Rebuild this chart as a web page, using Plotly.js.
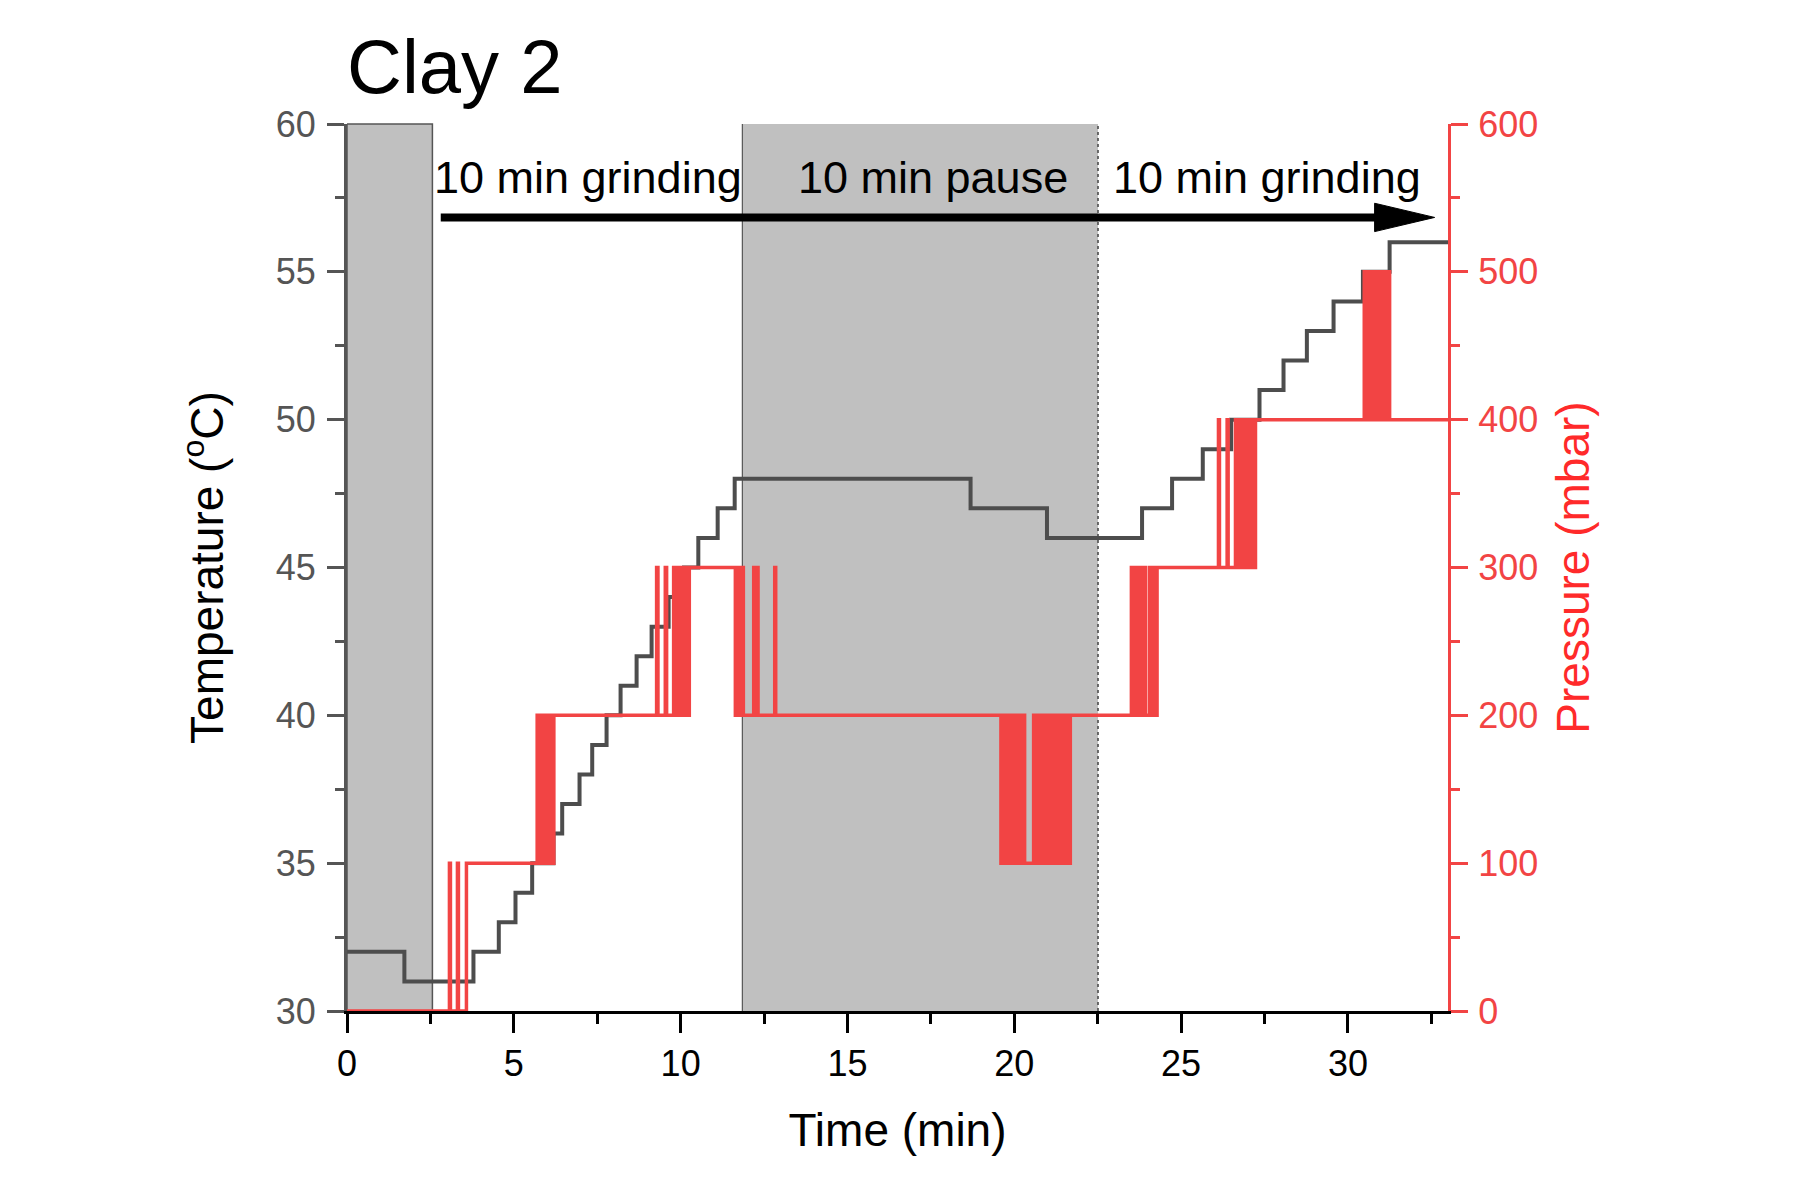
<!DOCTYPE html>
<html>
<head>
<meta charset="utf-8">
<script src="https://cdn.plot.ly/plotly-3.0.1.min.js"></script>
<style>
  body { margin: 0; background: #fff; }
  #chart { width: 1800px; height: 1200px; }
</style>
</head>
<body>
<div id="chart"></div>
<script>
//------------INPUT DATA------------

// temperature steps (min, degC)
const tempTime = [0, 1.72, 3.79, 4.55, 5.05, 5.55, 6.19, 6.45, 6.97, 7.35, 7.78, 8.2, 8.68, 9.13, 9.64, 10.1,
  10.53, 11.11, 11.62, 18.69, 20.98, 23.83, 24.73, 25.65, 26.5, 27.35, 28.07, 28.77, 29.57, 30.45, 31.25, 33];
const tempValue = [32, 31, 32, 33, 34, 35, 36, 37, 38, 39, 40, 41, 42, 43, 44, 45,
  46, 47, 48, 47, 46, 47, 48, 49, 50, 51, 52, 53, 54, 55, 56, 56];

// pressure readings (min, mbar) - sensor flips between two levels
const pressTime = [
  0, 3.07, 3.1, 3.31, 3.34, 3.58,
  5.7, 5.73, 5.79, 5.82, 5.88, 5.92, 5.96, 6.0, 6.04, 6.08, 6.12, 6.16, 6.2,
  9.28, 9.32, 9.54, 9.58, 9.79, 9.83, 9.92, 9.95, 10.02, 10.06, 10.1, 10.14, 10.18, 10.22, 10.26,
  11.64, 11.68, 11.72, 11.76, 11.8, 11.84, 11.88, 12.19, 12.22, 12.29, 12.32, 12.82, 12.85,
  19.6, 19.64, 19.68, 19.72, 19.76, 19.8, 19.84, 19.88, 19.92, 19.96, 20.0, 20.04, 20.08, 20.12, 20.16,
  20.2, 20.24, 20.28, 20.31,
  20.58, 20.62, 20.66, 20.7, 20.74, 20.78, 20.82, 20.86, 20.9, 20.94, 20.98, 21.02, 21.06, 21.1, 21.14,
  21.18, 21.22, 21.26, 21.3, 21.34, 21.38, 21.42, 21.46, 21.5, 21.54, 21.58, 21.62, 21.66, 21.68,
  23.51, 23.55, 23.59, 23.63, 23.67, 23.71, 23.75, 23.79, 23.83, 23.87, 23.91, 23.93,
  24.05, 24.09, 24.13, 24.17, 24.21, 24.25, 24.28,
  26.12, 26.15, 26.38, 26.41, 26.63, 26.67, 26.71, 26.75, 26.79, 26.83, 26.87, 26.91, 26.95, 26.99,
  27.03, 27.07, 27.11, 27.15, 27.23,
  30.49, 30.53, 30.57, 30.61, 30.65, 30.69, 30.73, 30.77, 30.81, 30.85, 30.89, 30.93, 30.97, 31.01,
  31.05, 31.09, 31.13, 31.17, 31.21, 31.25, 31.3,
  33
];
const pressValue = [
  0, 100, 0, 100, 0, 100,
  200, 100, 200, 100, 200, 100, 200, 100, 200, 100, 200, 100, 200,
  300, 200, 300, 200, 300, 200, 300, 200, 300, 200, 300, 200, 300, 200, 300,
  200, 300, 200, 300, 200, 300, 200, 300, 200, 300, 200, 300, 200,
  100, 200, 100, 200, 100, 200, 100, 200, 100, 200, 100, 200, 100, 200, 100,
  200, 100, 200, 100,
  200, 100, 200, 100, 200, 100, 200, 100, 200, 100, 200, 100, 200, 100, 200,
  100, 200, 100, 200, 100, 200, 100, 200, 100, 200, 100, 200, 100, 200,
  300, 200, 300, 200, 300, 200, 300, 200, 300, 200, 300, 200,
  300, 200, 300, 200, 300, 200, 300,
  400, 300, 400, 300, 400, 300, 400, 300, 400, 300, 400, 300, 400, 300,
  400, 300, 400, 300, 400,
  500, 400, 500, 400, 500, 400, 500, 400, 500, 400, 500, 400, 500, 400,
  500, 400, 500, 400, 500, 400, 400,
  400
];

// phases (min)
const pauseStart = [0, 11.85];
const pauseEnd = [2.56, 22.51];
const phaseLabels = ["10 min grinding", "10 min pause", "10 min grinding"];
const phaseLabelX = [7.22, 17.56, 27.57];

//------------END INPUT DATA------------

const FONT = "Liberation Sans, Arial, Helvetica, sans-serif";
const RED = "#f24444";
const GREY_AX = "#555555";

function drawChart() {
  const tempTrace = {
    x: tempTime,
    y: tempValue,
    type: "scatter",
    mode: "lines",
    line: { shape: "hv", color: "#4d4d4d", width: 4 },
    hoverinfo: "none",
    xaxis: "x",
    yaxis: "y",
  };

  const pressTrace = {
    x: pressTime,
    y: pressValue,
    type: "scatter",
    mode: "lines",
    line: { shape: "hv", color: RED, width: 3.5 },
    hoverinfo: "none",
    xaxis: "x",
    yaxis: "y2",
  };

  // grey boxes for the pause phases
  const shapes = [];
  for (let i = 0; i < pauseStart.length; i++) {
    shapes.push({
      type: "rect",
      xref: "x",
      yref: "paper",
      x0: pauseStart[i],
      x1: pauseEnd[i],
      y0: 0,
      y1: 1,
      fillcolor: "#c0c0c0",
      line: { width: i === 0 ? 1.5 : 0, color: "#555" },
      layer: "below",
    });
  }
  shapes.push({
    type: "line", xref: "x", yref: "paper",
    x0: pauseStart[1], x1: pauseStart[1], y0: 0, y1: 1,
    line: { color: "#555", width: 1.2 }, layer: "below",
  });
  shapes.push({
    type: "line", xref: "x", yref: "paper",
    x0: pauseEnd[1], x1: pauseEnd[1], y0: 0, y1: 1,
    line: { color: "#444", width: 1.5, dash: "dot" }, layer: "below",
  });

  // the long time arrow: shaft + head
  const arrowY = 56.84;
  shapes.push({
    type: "line", xref: "x", yref: "y",
    x0: 2.81, x1: 31.0, y0: arrowY, y1: arrowY,
    line: { color: "#000", width: 8 }, layer: "above",
  });
  shapes.push({
    type: "path", xref: "x", yref: "y",
    path: "M 30.8 " + (arrowY + 0.48) + " L 32.6 " + arrowY + " L 30.8 " + (arrowY - 0.48) + " Z",
    fillcolor: "#000",
    line: { color: "#000", width: 1 },
    layer: "above",
  });

  const annotations = phaseLabels.map((txt, i) => ({
    text: txt,
    x: phaseLabelX[i],
    y: 58.2,
    xref: "x",
    yref: "y",
    showarrow: false,
    font: { family: FONT, size: 45, color: "#000" },
  }));

  const layout = {
    width: 1800,
    height: 1200,
    paper_bgcolor: "#fff",
    plot_bgcolor: "#fff",
    showlegend: false,
    margin: { l: 347, r: 352, t: 124, b: 189 },
    font: { family: FONT },
    title: {
      text: "Clay 2",
      x: 0,
      xanchor: "left",
      xref: "paper",
      yref: "container",
      y: 0.945,
      yanchor: "middle",
      font: { family: FONT, size: 76, color: "#000" },
    },
    xaxis: {
      range: [0, 33],
      dtick: 5,
      tick0: 0,
      ticks: "outside",
      ticklen: 19,
      tickwidth: 3,
      tickcolor: "#000",
      linecolor: "#000",
      linewidth: 3,
      showline: true,
      zeroline: false,
      showgrid: false,
      ticklabelstandoff: 0,
      tickfont: { family: FONT, size: 36, color: "#000" },
      minor: { dtick: 2.5, ticks: "outside", ticklen: 10, tickwidth: 3, tickcolor: "#000" },
      title: {
        text: "Time (min)",
        standoff: 31,
        font: { family: FONT, size: 46, color: "#000" },
      },
    },
    xaxis2: {
      range: [0, 33],
      overlaying: "x",
      side: "top",
      anchor: "y",
      dtick: 5,
      ticks: "inside",
      ticklen: 17,
      tickwidth: 3,
      tickcolor: "#000",
      showline: true,
      linecolor: "#000",
      linewidth: 3,
      showticklabels: false,
      showgrid: false,
      zeroline: false,
      minor: { dtick: 2.5, ticks: "inside", ticklen: 9, tickwidth: 3, tickcolor: "#000" },
    },
    yaxis: {
      range: [30, 60],
      dtick: 5,
      tick0: 30,
      ticks: "outside",
      ticklen: 17,
      tickwidth: 3,
      tickcolor: GREY_AX,
      linecolor: GREY_AX,
      linewidth: 3,
      showline: true,
      zeroline: false,
      showgrid: false,
      ticklabelstandoff: 4,
      tickfont: { family: FONT, size: 36, color: GREY_AX },
      minor: { dtick: 2.5, ticks: "outside", ticklen: 9, tickwidth: 3, tickcolor: GREY_AX },
      title: {
        text: "Temperature (<sup>o</sup>C)",
        standoff: 38,
        font: { family: FONT, size: 46, color: "#000" },
      },
    },
    yaxis2: {
      range: [0, 600],
      dtick: 100,
      tick0: 0,
      overlaying: "y",
      side: "right",
      anchor: "x",
      ticks: "outside",
      ticklen: 17,
      tickwidth: 3,
      tickcolor: RED,
      linecolor: RED,
      linewidth: 3,
      showline: true,
      zeroline: false,
      showgrid: false,
      ticklabelstandoff: 3,
      tickfont: { family: FONT, size: 36, color: RED },
      minor: { dtick: 50, ticks: "outside", ticklen: 9, tickwidth: 3, tickcolor: RED },
      title: {
        text: "Pressure (mbar)",
        standoff: 20,
        font: { family: FONT, size: 46, color: "#ff2a2a" },
      },
    },
    shapes: shapes,
    annotations: annotations,
  };

  Plotly.newPlot("chart", [tempTrace, pressTrace], layout, { staticPlot: true });
}

drawChart();
</script>
</body>
</html>
